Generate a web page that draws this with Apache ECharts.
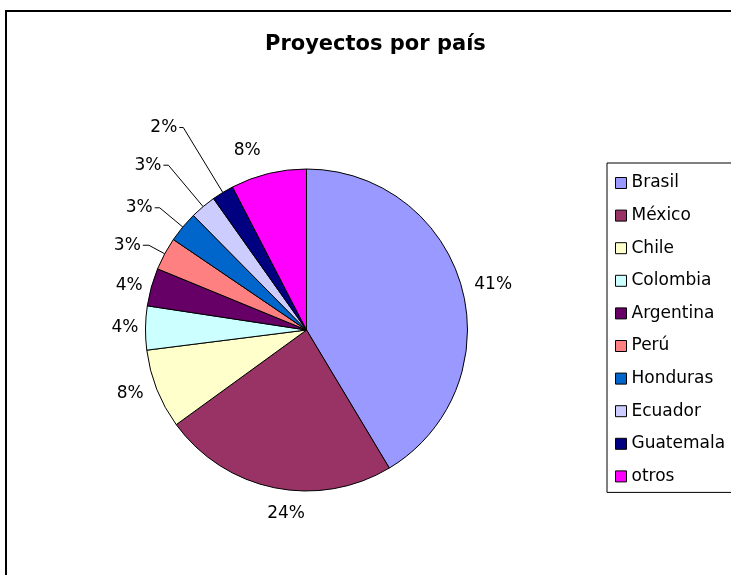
<!DOCTYPE html>
<html>
<head>
<meta charset="utf-8">
<title>Proyectos por país</title>
<script src="https://cdn.jsdelivr.net/npm/echarts@6/dist/echarts.min.js"></script>
<style>
    html, body { margin: 0; padding: 0; background: #fff; }
    #chart { width: 731px; height: 575px; }
</style>
</head>
<body>
<div id="chart"></div>
<script>
// datos del gráfico (porcentaje de proyectos por país)
var categories = ['Brasil', 'México', 'Chile', 'Colombia', 'Argentina', 'Perú', 'Honduras', 'Ecuador', 'Guatemala', 'otros'];
var shares = [41.4, 23.6, 8.0, 4.4, 3.8, 3.3, 3.1, 2.6, 2.2, 7.6];
var colors = ['#9999FF', '#993366', '#FFFFCC', '#CCFFFF', '#660066', '#FF8080', '#0066CC', '#CCCCFF', '#000080', '#FF00FF'];

// largo de las guías de etiqueta (estilo), por país
var labelLines = {
    'Brasil':    {length: 11, length2: 0, show: false},
    'México':    {length: 26, length2: 0, show: false},
    'Chile':     {length: 12, length2: 0, show: false},
    'Colombia':  {length: 5,  length2: 0, show: false},
    'Argentina': {length: 7,  length2: 0, show: false},
    'Perú':      {length: 18, length2: 6, show: true},
    'Honduras':  {length: 30, length2: 5, show: true},
    'Ecuador':   {length: 54, length2: 5, show: true},
    'Guatemala': {length: 76, length2: 4, show: true},
    'otros':     {length: 24, length2: 0, show: false}
};

var font = '"DejaVu Sans", Arial, sans-serif';

function buildData(){
    var list = [];
    for (var i = 0; i < categories.length; i++) {
        var ll = labelLines[categories[i]];
        list.push({
            name: categories[i],
            value: shares[i],
            labelLine: {
                show: ll.show,
                length: ll.length,
                length2: ll.length2,
                lineStyle: {color: '#000', width: 1}
            }
        });
    }
    return list;
}

var option = {
    backgroundColor: '#fff',
    animation: false,
    color: colors,
    title: {
        text: 'Proyectos por país',
        left: 265,
        top: 34,
        padding: 0,
        textStyle: {
            fontFamily: font,
            fontSize: 21,
            fontWeight: 'bold',
            color: '#000'
        }
    },
    legend: {
        orient: 'vertical',
        left: 607,
        top: 163,
        padding: [10, 8, 6, 8],
        itemWidth: 11,
        itemHeight: 11,
        itemGap: 12.6,
        icon: 'rect',
        borderColor: '#000',
        borderWidth: 1,
        itemStyle: {borderColor: '#000', borderWidth: 1},
        textStyle: {
            fontFamily: font,
            fontSize: 17,
            lineHeight: 20,
            color: '#000'
        },
        data: categories
    },
    graphic: [
        {
            type: 'rect',
            shape: {x: 6, y: 11, width: 800, height: 700},
            style: {fill: 'none', stroke: '#000', lineWidth: 2},
            silent: true
        }
    ],
    series: [
        {
            name: 'Proyectos',
            type: 'pie',
            center: [306.5, 330],
            radius: 161,
            startAngle: 90,
            clockwise: true,
            avoidLabelOverlap: false,
            itemStyle: {
                borderColor: '#000',
                borderWidth: 1
            },
            label: {
                show: true,
                position: 'outside',
                distanceToLabelLine: 2,
                fontFamily: font,
                fontSize: 17,
                color: '#000',
                formatter: function(p){
                    return Math.round(p.percent) + '%';
                }
            },
            labelLayout: function(p){
                // la etiqueta de México va debajo, alineada a la izquierda
                if (categories[p.dataIndex] === 'México') {
                    return {align: 'left'};
                }
            },
            emphasis: {disabled: true},
            data: buildData()
        }
    ]
};

var myChart = echarts.init(document.getElementById('chart'), null, {renderer: 'canvas'});
myChart.setOption(option);
</script>
</body>
</html>
